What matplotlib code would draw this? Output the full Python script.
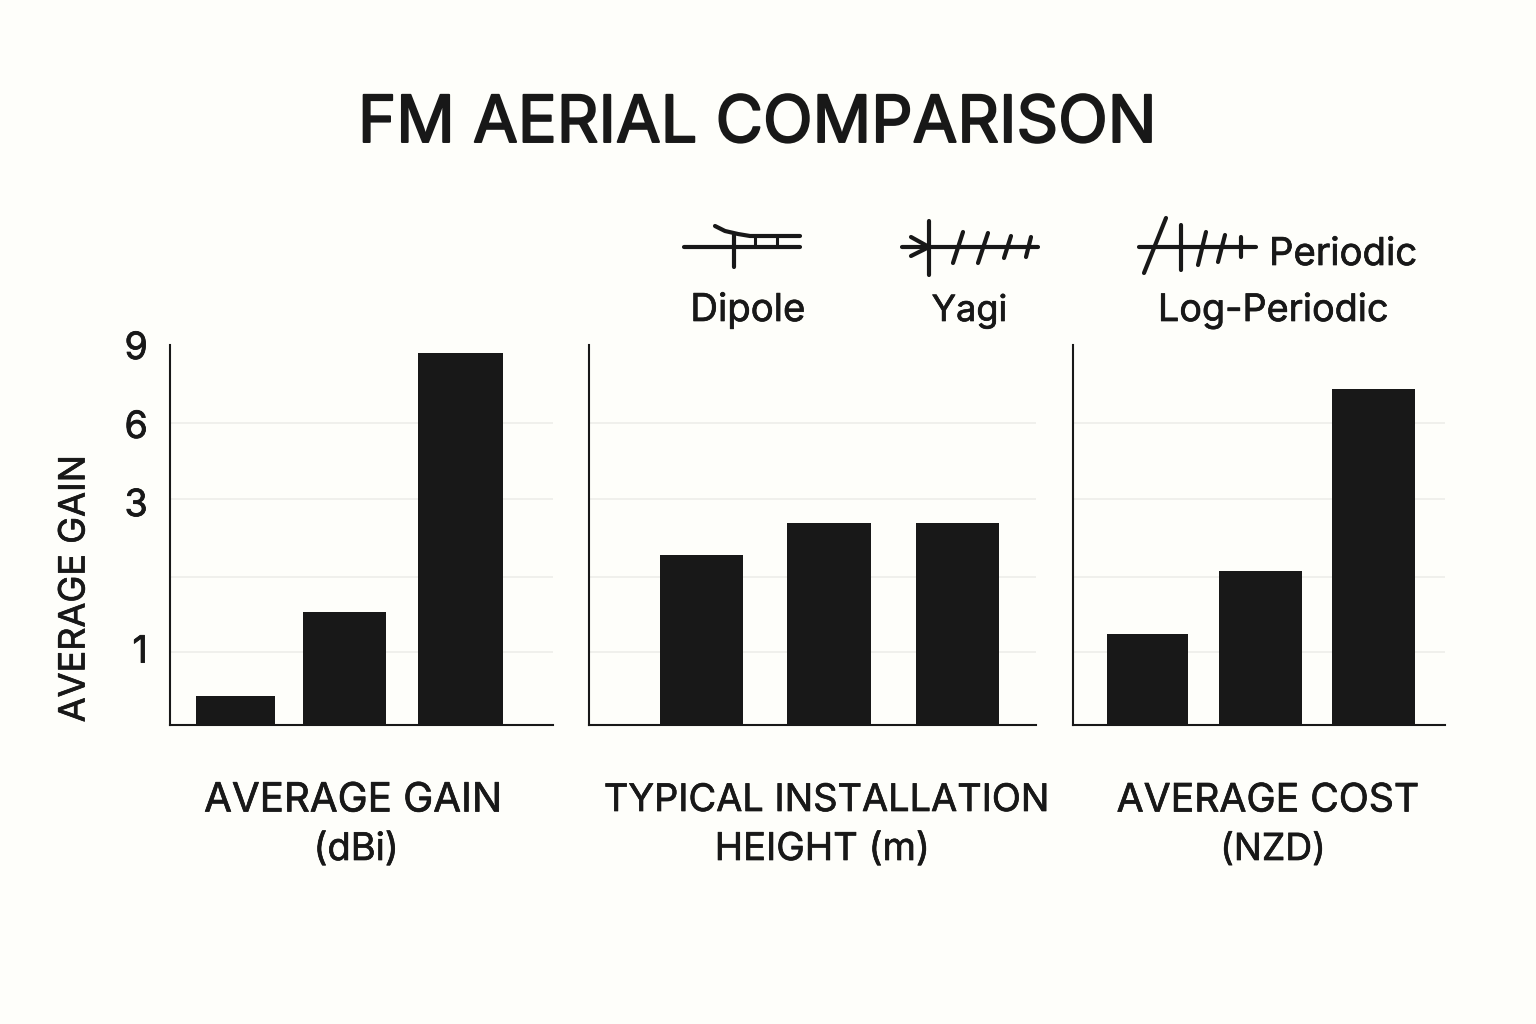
import numpy as np
import matplotlib
matplotlib.use("Agg")
import matplotlib.pyplot as plt
import matplotlib.patheffects as pe

plt.rcParams['font.family'] = ['Inter', 'DejaVu Sans']

INK = '#181818'
BG = '#fefefa'
GRID = '#f0f0ec'

title = "FM AERIAL COMPARISON"
aerials = ["Dipole", "Yagi", "Log-Periodic"]
y_label = "AVERAGE GAIN"

# the axis is not linear, bars are read in steps of the grid
tick_levels = [1.0, 2.93, 3.96, 5.0]
tick_labels = ["1", "3", "6", "9"]
grid_levels = [0.96, 1.94, 2.97, 3.97]
gain = [0.37, 1.48, 4.89]
height = [2.23, 2.65, 2.65]
cost = [1.19, 2.02, 4.42]
series = [gain, height, cost]

W, H = 1536, 1024
# left, right, first bar centre, spacing, bar widths, nudges (pixels)
panels = [
    (170, 553, 235, 112.5, [79, 83, 85], [0.5, -3, 0.5]),
    (589, 1036, 701.5, 128, [83, 84, 83], [0, -0.5, -0.5]),
    (1073, 1445, 1147.5, 113, [81, 83, 83], [0, 0, 0]),
]
top, base = 345, 724.5

fig = plt.figure(figsize=(W / 100, H / 100), dpi=100, facecolor=BG)

for i, (left, right, c0, step, bw, nudge) in enumerate(panels):
    ax = fig.add_axes([left / W, 1 - base / H, (right - left) / W, (base - top) / H], facecolor='none')
    ax.set_xlim((left - c0) / step, (right - c0) / step)
    ax.set_ylim(0, 5)
    xpos = np.arange(3) + np.array(nudge) / step
    ax.bar(xpos, series[i], width=np.array(bw) / step, color=INK, zorder=3)
    ax.hlines(grid_levels, *ax.get_xlim(), color=GRID, lw=1.4, zorder=1)
    ax.set_xticks([])
    ax.set_yticks(tick_levels)
    for s in ['top', 'right']:
        ax.spines[s].set_visible(False)
    for s in ['left', 'bottom']:
        ax.spines[s].set_color(INK)
        ax.spines[s].set_linewidth(1.5)
    if i == 0:
        ax.set_yticklabels(tick_labels, fontsize=27, color=INK)
        ax.tick_params(axis='y', length=0, pad=16)
        for t in ax.get_yticklabels():
            t.set_path_effects([pe.withStroke(linewidth=0.6, foreground=INK)])
    else:
        ax.tick_params(axis='y', length=0, labelleft=False)

# overlay in pixels for the text and aerial symbols
ov = fig.add_axes([0, 0, 1, 1], facecolor='none')
ov.set_xlim(0, W)
ov.set_ylim(H, 0)
ov.axis('off')

def label(x, y, s, size, bold=0.5, **kw):
    kw.setdefault('ha', 'center')
    t = ov.text(x, y, s, fontsize=size, color=INK, va='center', **kw)
    t.set_path_effects([pe.withStroke(linewidth=bold, foreground=INK)])
    return t

label(757.5, 125, title, 46.7, bold=1.4)
label(75, 589, y_label, 26, rotation=90)

label(748, 311, aerials[0], 27.6)
label(969.5, 311, aerials[1], 26)
label(1273, 311, aerials[2], 27.2)
label(1269, 255, "Periodic", 27.6, ha='left')

label(353, 801, "AVERAGE GAIN", 29)
label(356, 850, "(dBi)", 27.4)
label(827, 801, "TYPICAL INSTALLATION", 27.3)
label(822.5, 850, "HEIGHT (m)", 27.5)
label(1268, 801, "AVERAGE COST", 28.2)
label(1273, 850, "(NZD)", 26.8)

def stroke(xs, ys, lw=3):
    ov.plot(xs, ys, color=INK, lw=lw, solid_capstyle='round', solid_joinstyle='round')

# dipole symbol
stroke([684, 800], [247, 247])
stroke([715, 725, 738, 750, 800], [226, 231, 234, 236, 236])
stroke([734, 734], [235, 267])
stroke([755, 755], [236, 247], 2.2)
stroke([777, 777], [236, 247], 2.2)

# yagi symbol
stroke([902, 1038], [247, 247])
stroke([929, 929], [221, 275])
stroke([911, 929, 911], [237, 247, 256])
for xs, ys in [([953, 963], [263, 232]), ([978, 988], [263, 233]),
               ([1004, 1011], [258, 236]), ([1026, 1031], [257, 237])]:
    stroke(xs, ys)

# log-periodic symbol
stroke([1139, 1256], [247, 247])
stroke([1144, 1166], [273, 218])
stroke([1181, 1181], [225, 270])
stroke([1198, 1206], [265, 232])
stroke([1218, 1225], [262, 235])
stroke([1241, 1241], [237, 257])

fig.savefig("out.png", dpi=100, facecolor=BG)
